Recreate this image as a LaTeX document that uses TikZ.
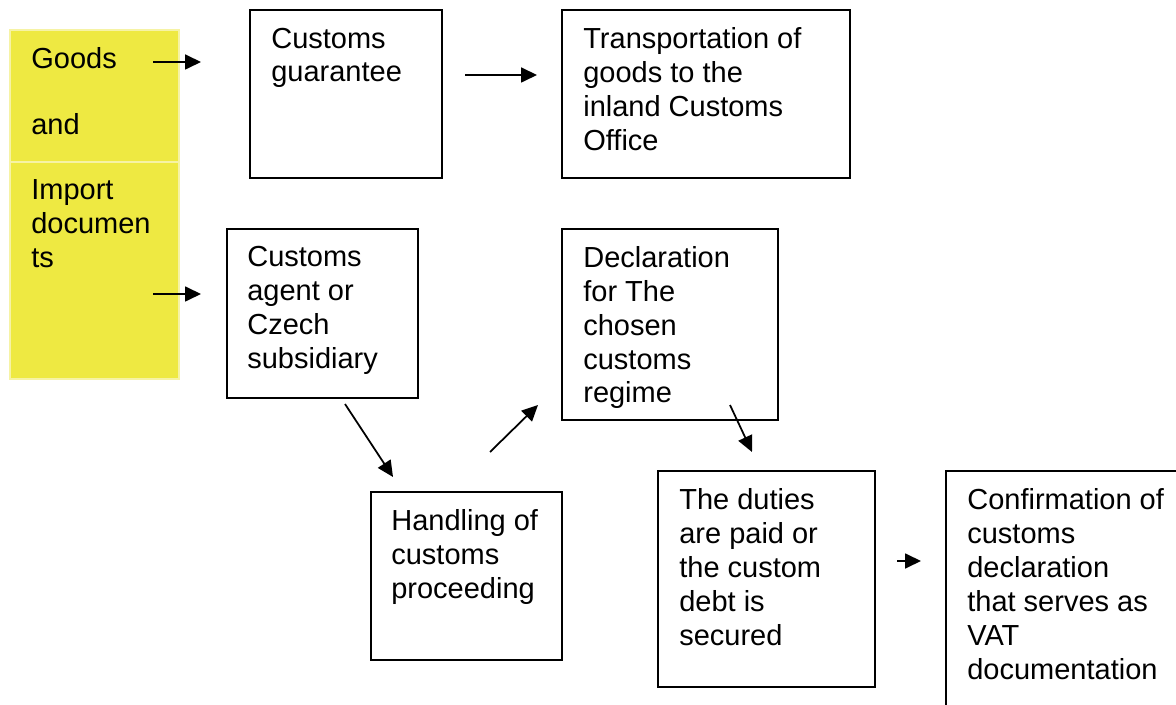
\documentclass[tikz,border=0pt]{standalone}
\usepackage{fontspec}
\setmainfont{Liberation Sans}
\usetikzlibrary{arrows.meta,positioning}

\definecolor{postit}{RGB}{238,233,66}
\definecolor{postitedge}{RGB}{246,243,165}

\begin{document}
\begin{tikzpicture}[
    x=0.02cm, y=-0.02cm,
    box/.style={draw, line width=1.2pt, anchor=north west, inner sep=0pt},
    ybox/.style={draw=postitedge, fill=postit, line width=1pt, anchor=north west,
                inner sep=0pt, minimum width=3.38cm},
    txt/.style={anchor=north west, inner sep=0pt, align=left,
                font=\fontsize{16.5}{19.3}\selectfont},
    arr/.style={-{Triangle[length=0.32cm, width=0.30cm]}, line width=1pt}
  ]
    \useasboundingbox (0,0) rectangle (1176,705);
    \clip (0,0) rectangle (1176,705);

    % yellow note on the left
    \node[ybox, minimum height=2.64cm] (gd0) at (9,29)  {};
    \node[ybox, minimum height=4.34cm] (gd1) at (9,161) {};
    \node[txt, below right=0.36cm and 0.44cm of gd0.north west] (gd0t) {Goods};
    \node[txt, below=0.88cm of gd0t.south west, anchor=north west] (gd1t) {and};
    \node[txt, below right=0.36cm and 0.44cm of gd1.north west] (gd2t) {Import\\documen\\ts};

    % boxes
    \node[box, minimum width=3.84cm, minimum height=3.36cm] (gua) at (249,9)   {};
    \node[box, minimum width=5.76cm, minimum height=3.36cm] (trn) at (561,9)   {};
    \node[box, minimum width=3.82cm, minimum height=3.38cm] (agt) at (226,228) {};
    \node[box, minimum width=4.32cm, minimum height=3.82cm] (dec) at (561,228) {};
    \node[box, minimum width=3.82cm, minimum height=3.36cm] (hdl) at (370,491) {};
    \node[box, minimum width=4.34cm, minimum height=4.32cm] (dut) at (657,470) {};
    \node[box, minimum width=6.00cm, minimum height=6.00cm] (cnf) at (945,470) {};

    \node[txt, below right=0.37cm and 0.44cm of gua.north west] {Customs\\guarantee};
    \node[txt, below right=0.36cm and 0.44cm of trn.north west] {Transportation of\\goods to the\\inland Customs\\Office};
    \node[txt, below right=0.36cm and 0.42cm of agt.north west] {Customs\\agent or\\Czech\\subsidiary};
    \node[txt, below right=0.36cm and 0.44cm of dec.north west] {Declaration\\for The\\chosen\\customs\\regime};
    \node[txt, below right=0.36cm and 0.42cm of hdl.north west] {Handling of\\customs\\proceeding};
    \node[txt, below right=0.37cm and 0.44cm of dut.north west] {The duties\\are paid or\\the custom\\debt is\\secured};
    \node[txt, below right=0.37cm and 0.44cm of cnf.north west] {Confirmation of\\customs\\declaration\\that serves as\\VAT\\documentation};

    % arrows (they stand free of the boxes)
    \coordinate (a1s) at (153,62);  \coordinate (a1e) at (201,62);
    \coordinate (a2s) at (465,75);  \coordinate (a2e) at (537,75);
    \coordinate (a3s) at (153,294); \coordinate (a3e) at (201,294);
    \coordinate (a4s) at (345,404); \coordinate (a4e) at (393,477);
    \coordinate (a5s) at (490,452); \coordinate (a5e) at (538,405);
    \coordinate (a6s) at (730,405); \coordinate (a6e) at (752,452);
    \coordinate (a7s) at (897,561); \coordinate (a7e) at (921,561);

    \draw[arr] (a1s) -- (a1e);
    \draw[arr] (a2s) -- (a2e);
    \draw[arr] (a3s) -- (a3e);
    \draw[arr] (a4s) -- (a4e);
    \draw[arr] (a5s) -- (a5e);
    \draw[arr] (a6s) -- (a6e);
    \draw[arr] (a7s) -- (a7e);
\end{tikzpicture}
\end{document}
